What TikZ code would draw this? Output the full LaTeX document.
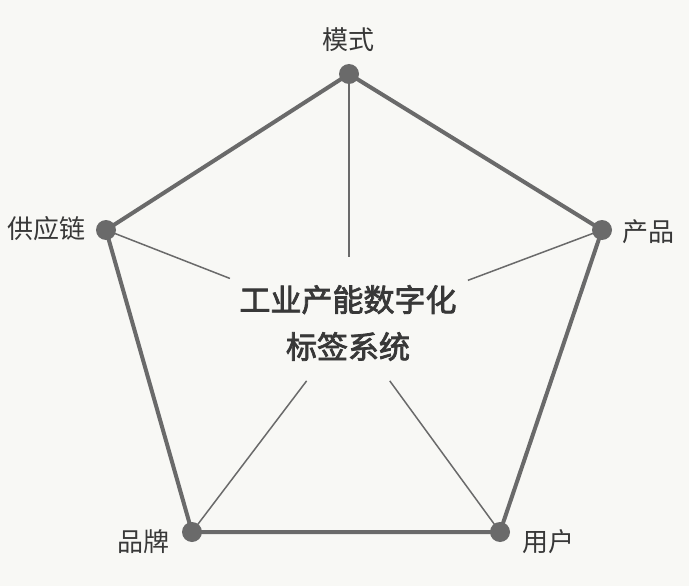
\documentclass[tikz,border=0pt]{standalone}
\usepackage{fontspec}
\setmainfont{Noto Sans CJK SC}
\newfontfamily\corefont{Noto Sans CJK SC}[FakeBold=2.5]
\usetikzlibrary{calc,positioning}
\definecolor{edgegray}{HTML}{6A6A6A}
\definecolor{textgray}{HTML}{383838}
\definecolor{paper}{HTML}{F8F8F5}
\begin{document}
\begin{tikzpicture}[x=1pt,y=-1pt,
    dot/.style={circle,fill=edgegray,minimum size=20pt,inner sep=0pt},
    rim/.style={edgegray,line width=4pt,line join=round},
    spoke/.style={edgegray,line width=1.5pt},
    tag/.style={text=textgray,font=\fontsize{26}{30}\selectfont}]
    \useasboundingbox[fill=paper] (0,0) rectangle (689,586);

    % Vertices of the pentagon
    \node[dot] (mode)  at (349,74)  {};
    \node[dot] (prod)  at (602,230) {};
    \node[dot] (user)  at (500,532) {};
    \node[dot] (brand) at (192,532) {};
    \node[dot] (chain) at (106,230) {};

    % Labels
    \node[tag] (modeL)  at (348,40)  {模式};
    \node[tag] (prodL)  at (648,232) {产品};
    \node[tag] (userL)  at (548,542) {用户};
    \node[tag] (brandL) at (143,542) {品牌};
    \node[tag] (chainL) at (47,229)  {供应链};

    % Centre text
    \coordinate (c) at (349,325);
    \node[text=textgray,align=center,font=\fontsize{31}{47}\selectfont\corefont]
        (core) at (348,323) {工业产能数字化\\标签系统};

    % Outline
    \draw[rim] (mode.center) -- (prod.center) -- (user.center)
        -- (brand.center) -- (chain.center) -- cycle;

    % Spokes towards the centre
    \foreach \v/\f in {mode/0.73, prod/0.53, user/0.73, brand/0.73, chain/0.51} {
        \draw[spoke] (\v.center) -- ($(\v.center)!\f!(c)$);
    }
\end{tikzpicture}
\end{document}
